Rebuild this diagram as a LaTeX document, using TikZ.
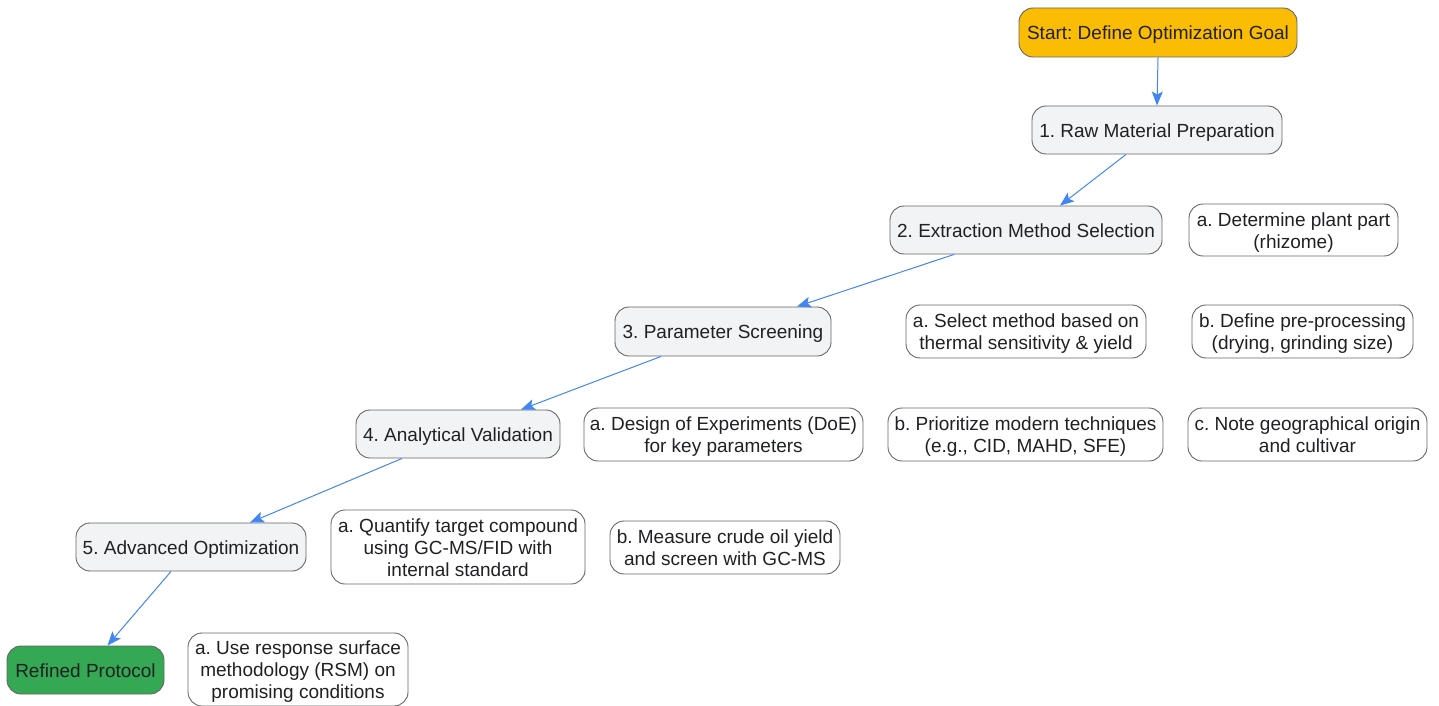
\documentclass[tikz,border=0pt]{standalone}
\usepackage{fontspec}
\setmainfont{Liberation Sans}
\usetikzlibrary{arrows.meta}
\definecolor{startc}{HTML}{FBBC04}
\definecolor{endc}{HTML}{34A853}
\definecolor{stepc}{HTML}{F1F3F4}
\definecolor{edgec}{HTML}{666666}
\definecolor{arrc}{HTML}{4285F4}
\definecolor{txt}{HTML}{202124}
\frenchspacing
\newcommand{\topgap}{\rule{0pt}{19.6pt}}
\newcommand{\botgap}{\rule[-5pt]{0pt}{5pt}}
\tikzset{
  box/.style={draw=edgec, line width=0.9pt, rounded corners=14pt, align=center,
    font=\fontsize{19}{22}\selectfont, text=txt, inner sep=0pt},
  mainbox/.style={box, fill=stepc},
  subbox/.style={box, fill=white},
  arr/.style={draw=arrc, line width=1pt, -{Stealth[length=14pt,width=11pt,inset=3pt]}}
}
\begin{document}
\begin{tikzpicture}[x=1pt,y=-1pt]
\useasboundingbox (0,0) rectangle (1439,706);
\node[box, fill=startc, minimum width=278pt, minimum height=49pt] (start) at (1158,32.5) {\topgap Start: Define Optimization Goal\botgap};
\node[mainbox, minimum width=250pt, minimum height=48pt] (s1) at (1157,130) {\topgap 1. Raw Material Preparation\botgap};
\node[mainbox, minimum width=272pt, minimum height=48pt] (s2) at (1026,230) {\topgap 2. Extraction Method Selection\botgap};
\node[subbox, minimum width=209pt, minimum height=52pt] (s1a) at (1293.5,230) {\topgap a. Determine plant part\\(rhizome)\botgap};
\node[mainbox, minimum width=216pt, minimum height=49pt] (s3) at (723,331.5) {\topgap 3. Parameter Screening\botgap};
\node[subbox, minimum width=240pt, minimum height=53pt] (s2a) at (1026,331.5) {\topgap a. Select method based on\\thermal sensitivity \& yield\botgap};
\node[subbox, minimum width=221pt, minimum height=53pt] (s1b) at (1302.5,331.5) {\topgap b. Define pre-processing\\(drying, grinding size)\botgap};
\node[mainbox, minimum width=204pt, minimum height=48pt] (s4) at (458,434) {\topgap 4. Analytical Validation\botgap};
\node[subbox, minimum width=279pt, minimum height=53pt] (s3a) at (723.5,434.5) {\topgap a. Design of Experiments (DoE)\\for key parameters\botgap};
\node[subbox, minimum width=275pt, minimum height=53pt] (s2b) at (1025.5,434.5) {\topgap b. Prioritize modern techniques\\(e.g., CID, MAHD, SFE)\botgap};
\node[subbox, minimum width=239pt, minimum height=53pt] (s1c) at (1307.5,434.5) {\topgap c. Note geographical origin\\and cultivar\botgap};
\node[mainbox, minimum width=230pt, minimum height=48pt] (s5) at (191,547) {\topgap 5. Advanced Optimization\botgap};
\node[subbox, minimum width=254pt, minimum height=74pt] (s4a) at (458,547) {\topgap a. Quantify target compound\\using GC-MS/FID with\\internal standard\botgap};
\node[subbox, minimum width=230pt, minimum height=53pt] (s3b) at (725,547.5) {\topgap b. Measure crude oil yield\\and screen with GC-MS\botgap};
\node[box, fill=endc, minimum width=157pt, minimum height=48pt] (end) at (85.5,670) {\topgap Refined Protocol\botgap};
\node[subbox, minimum width=220pt, minimum height=73pt] (s5a) at (298,669.5) {\topgap a. Use response surface\\methodology (RSM) on\\promising conditions\botgap};
\draw[arr] (start.south) -- (s1.north);
\draw[arr] ([xshift=-31pt]s1.south) -- ([xshift=34pt]s2.north);
\draw[arr] ([xshift=-72pt]s2.south) -- ([xshift=74pt]s3.north);
\draw[arr] ([xshift=-62pt]s3.south) -- ([xshift=63pt]s4.north);
\draw[arr] ([xshift=-56pt]s4.south) -- ([xshift=59pt]s5.north);
\draw[arr] ([xshift=-20pt]s5.south) -- ([xshift=22pt]end.north);
\end{tikzpicture}
\end{document}
